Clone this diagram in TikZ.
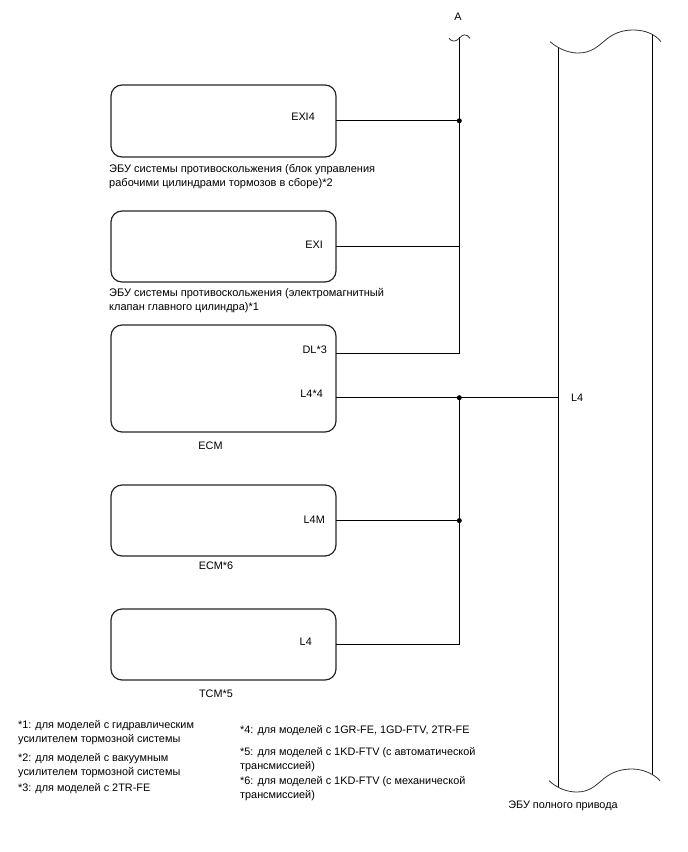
\documentclass[tikz,border=0pt]{standalone}
\usepackage{fontspec}
\setmainfont{Liberation Sans}
\tikzset{
  x=1bp,y=-1bp,
  ecu/.style={draw=black!85,line width=1.2bp,rounded corners=11bp,fill=white,minimum width=225bp,inner sep=0pt,outer sep=0pt,anchor=north west},
  wire/.style={draw=black,line width=1.2bp},
  thin wave/.style={draw=black!80,line width=0.8bp},
  txt/.style={inner sep=0pt,anchor=base west,align=left,font=\fontsize{10.9}{13.8}\selectfont},
  captxt/.style={txt,font=\fontsize{11.05}{13.8}\selectfont},
  ctr/.style={inner sep=0pt,anchor=base,font=\fontsize{10.9}{13.8}\selectfont},
  dot/.style={circle,fill=black,inner sep=0pt,minimum size=5bp},
}
\begin{document}
\begin{tikzpicture}
\useasboundingbox (0,0) rectangle (688,852);
% boxes
\node[ecu,minimum height=72bp] (b1) at (111,85) {};
\node[ecu,minimum height=71bp] (b2) at (111,211) {};
\node[ecu,minimum height=107bp] (b3) at (111,325) {};
\node[ecu,minimum height=71bp] (b4) at (111,485) {};
\node[ecu,minimum height=71bp] (b5) at (111,609) {};
% port labels
\node[ctr,anchor=base east] (pexi4) at (315,120) {EXI4};
\node[ctr,anchor=base east] (pexi) at (323,248) {EXI};
\node[ctr,anchor=base east] (pdl) at (327,353) {DL*3};
\node[ctr,anchor=base east] (pl44) at (323,397) {L4*4};
\node[ctr,anchor=base east] (pl4m) at (325,523) {L4M};
\node[ctr,anchor=base east] (pl4) at (312,645) {L4};
\node[ctr,anchor=base west] (pl4r) at (571,401) {L4};
% captions (y is the baseline of the last line)
\node[captxt] (c1) at (109,186) {ЭБУ системы противоскольжения (блок управления\\рабочими цилиндрами тормозов в сборе)*2};
\node[captxt] (c2) at (109,310) {ЭБУ системы противоскольжения (электромагнитный\\клапан главного цилиндра)*1};
\node[ctr] (c3) at (210.5,449) {ECM};
\node[ctr] (c4) at (216,569) {ECM*6};
\node[ctr] (c5) at (216,697) {TCM*5};
\node[ctr] (c6) at (563,808) {ЭБУ полного привода};
\node[ctr] (la) at (458,20) {A};
% notes
\node[txt] (n1) at (18,742) {*1: для моделей с гидравлическим\\усилителем тормозной системы};
\node[txt] (n2) at (18,775) {*2: для моделей с вакуумным\\усилителем тормозной системы};
\node[txt] (n3) at (18,791) {*3: для моделей с 2TR-FE};
\node[txt] (n4) at (240,733) {*4: для моделей с 1GR-FE, 1GD-FTV, 2TR-FE};
\node[txt] (n5) at (240,769) {*5: для моделей с 1KD-FTV (с автоматической\\трансмиссией)};
\node[txt] (n6) at (240,798) {*6: для моделей с 1KD-FTV (с механической\\трансмиссией)};
% coordinates
\coordinate (top) at (459.3,38);
\coordinate (j1) at (459.3,120.8);
\coordinate (j2) at (459.3,246.2);
\coordinate (j3) at (459.3,353.8);
\coordinate (j4) at (459.3,397.7);
\coordinate (j5) at (459.3,520.6);
\coordinate (j6) at (459.3,644.3);
\coordinate (rl) at (558.3,397.7);
% wires
\draw[wire,line cap=rect] (top) -- (j3);
\draw[wire,line cap=rect] (j4) -- (j6);
\draw[wire] (b1.east |- j1) -- (j1);
\draw[wire] (b2.east |- j2) -- (j2);
\draw[wire] (b3.east |- j3) -- (j3);
\draw[wire] (b3.east |- j4) -- (rl);
\draw[wire] (b4.east |- j5) -- (j5);
\draw[wire] (b5.east |- j6) -- (j6);
\node[dot] (d1) at (j1) {};
\node[dot] (d2) at (j4) {};
\node[dot] (d3) at (j5) {};
% break mark at A
\draw[thin wave] (449,38.3) .. controls (451.5,41.5) and (455,42.5) .. (459.3,38.3)
  .. controls (462,34.5) and (466.5,33) .. (470,38.3);
% right unit
\draw[wire] (558.3,48) -- (558.3,787);
\draw[wire] (652.3,35) -- (652.3,775);
\draw[thin wave] (550,41.7) .. controls (560,50) and (570,53) .. (578,53)
  .. controls (592,53) and (598,46) .. (605,40.5)
  .. controls (613,33.5) and (622,30) .. (633,30)
  .. controls (645,30) and (655,34) .. (661,41.7);
\draw[thin wave] (549,780.7) .. controls (558,789) and (568,792) .. (577,792)
  .. controls (590,792) and (596,785) .. (604,778.5)
  .. controls (612,772) and (621,769) .. (632,769)
  .. controls (643,769) and (654,774) .. (660,780.7);
\end{tikzpicture}
\end{document}
